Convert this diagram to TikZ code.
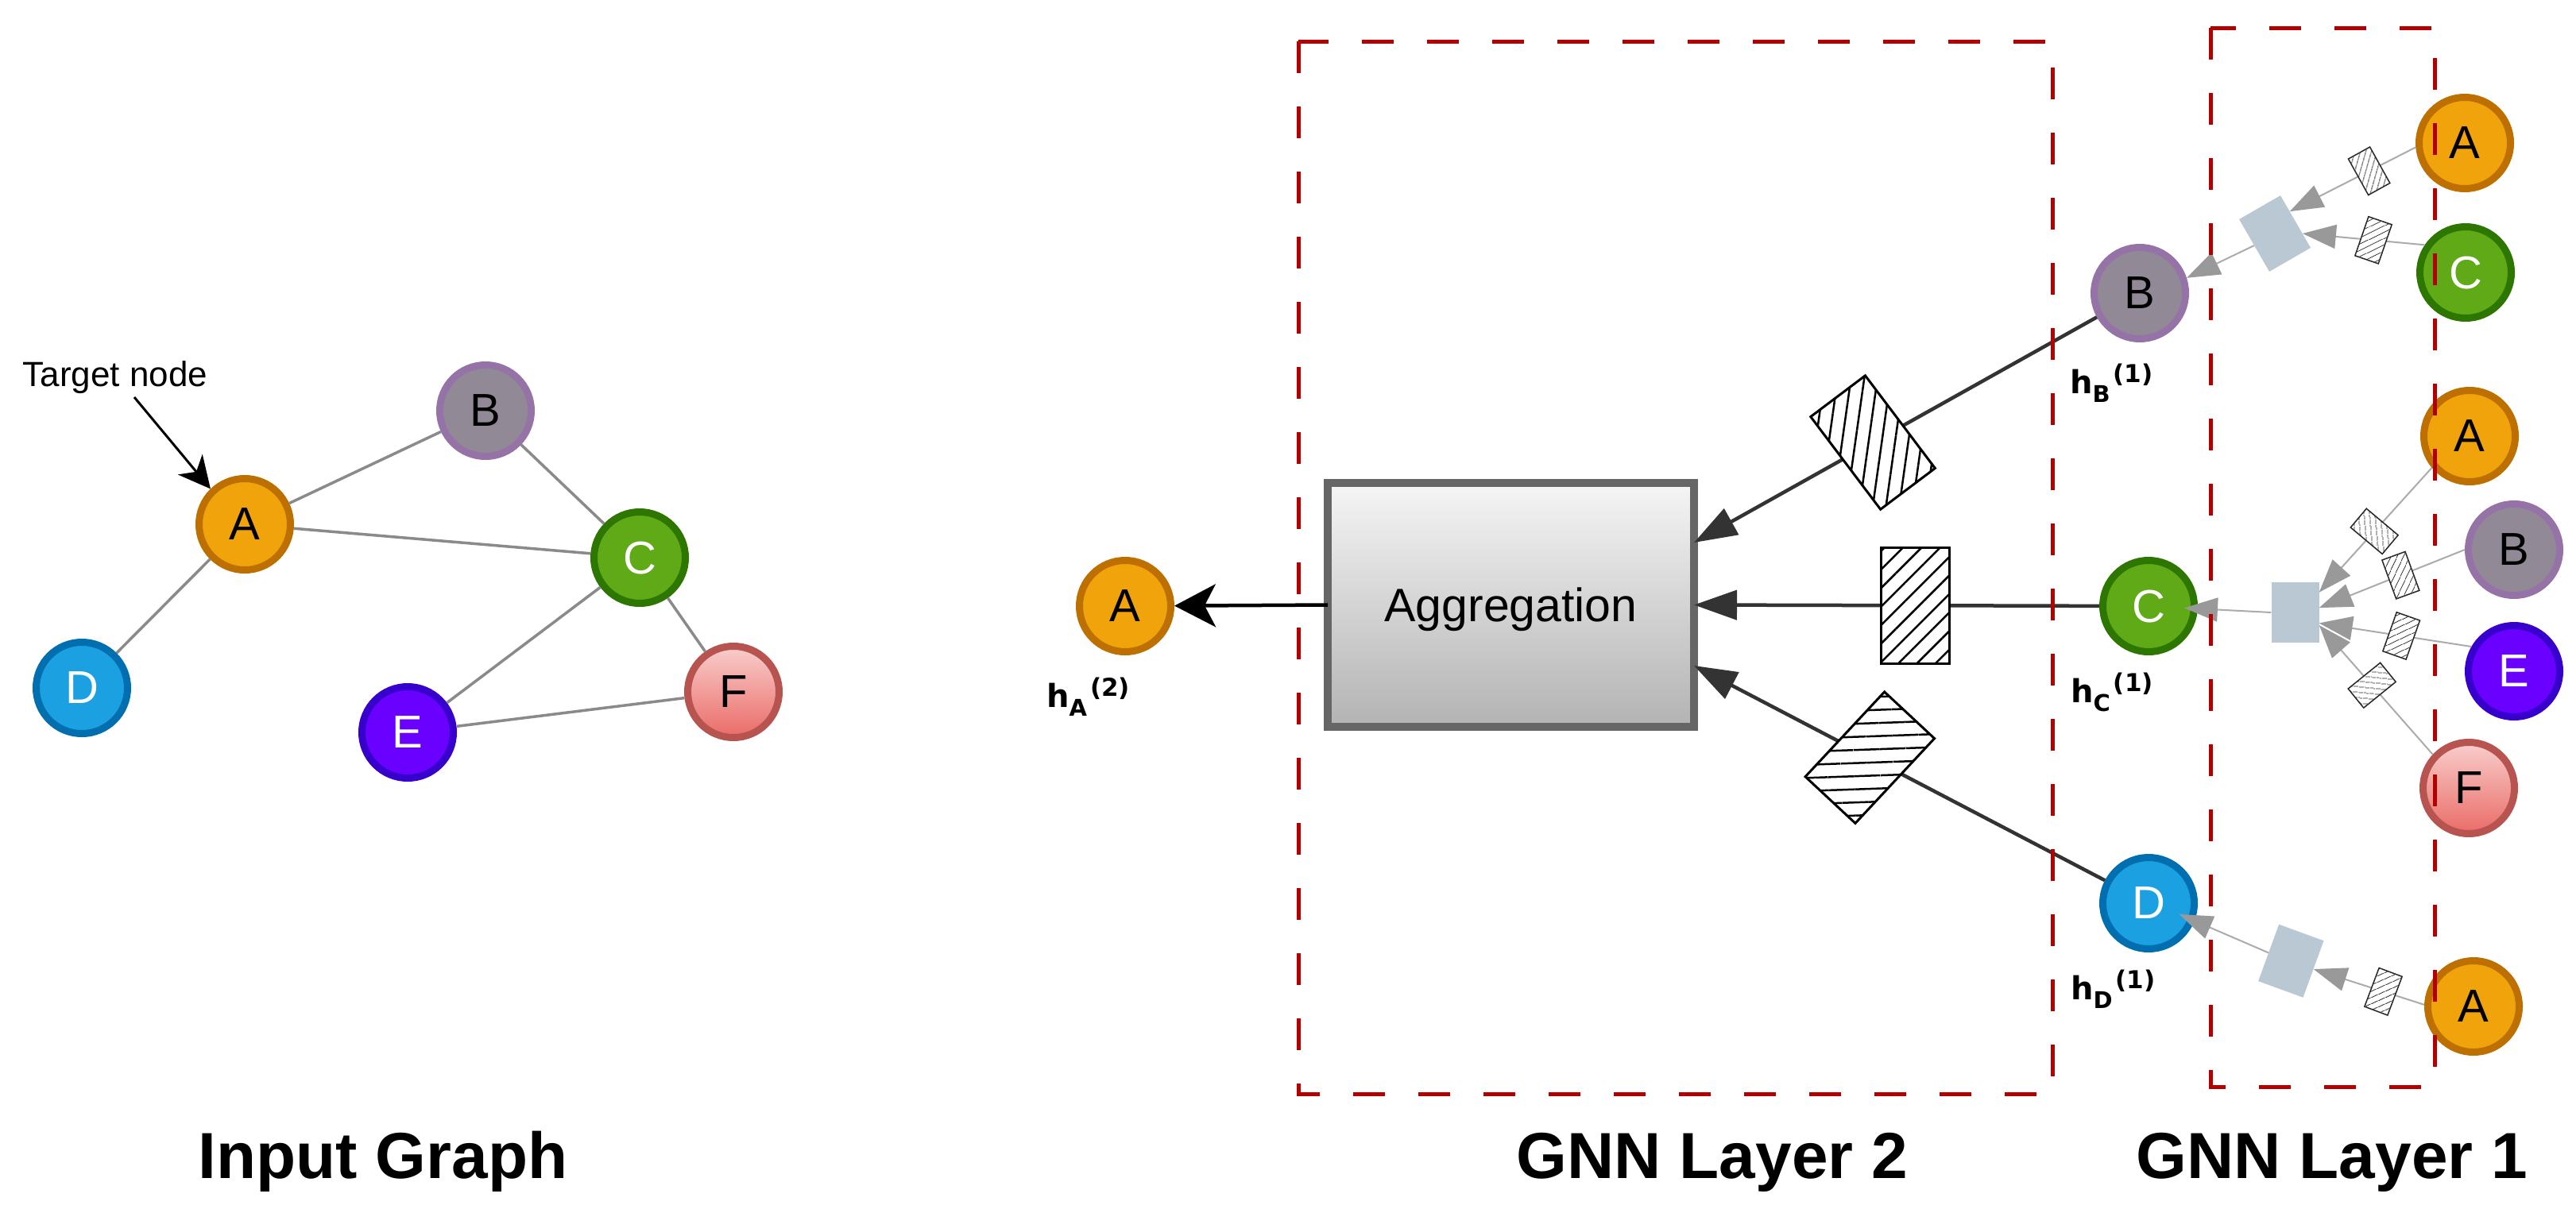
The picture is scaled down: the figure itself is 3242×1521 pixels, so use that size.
\documentclass[tikz,border=0pt]{standalone}
\usepackage{fontspec}
\setmainfont{Liberation Sans}
\newfontfamily\hfont{DejaVu Sans}
\usetikzlibrary{arrows.meta,patterns.meta,calc}

\definecolor{cAf}{HTML}{F0A30A}\definecolor{cAs}{HTML}{BD7000}
\definecolor{cBf}{HTML}{918A96}\definecolor{cBs}{HTML}{9673A6}
\definecolor{cCf}{HTML}{60A917}\definecolor{cCs}{HTML}{2D7600}
\definecolor{cDf}{HTML}{1BA1E2}\definecolor{cDs}{HTML}{006EAF}
\definecolor{cEf}{HTML}{6A00FF}\definecolor{cEs}{HTML}{3700CC}
\definecolor{cFt}{HTML}{F8CECC}\definecolor{cFb}{HTML}{EA6B66}\definecolor{cFs}{HTML}{B85450}
\definecolor{dashred}{HTML}{B20000}
\definecolor{aggline}{HTML}{666666}
\definecolor{aggtop}{HTML}{F5F5F5}
\definecolor{aggbot}{HTML}{B3B3B3}
\definecolor{darkline}{HTML}{333333}
\definecolor{wrect}{HTML}{BAC8D3}
\definecolor{gline}{HTML}{ABABAB}
\definecolor{ghead}{HTML}{999999}
\definecolor{edgegray}{HTML}{8A8A8A}

\newcommand\hlab[2]{{\hfont\bfseries\fontsize{40}{44}\selectfont h}\raisebox{-11pt}{\hfont\bfseries\fontsize{29}{32}\selectfont #1}\hspace{4pt}\raisebox{14pt}{\hfont\bfseries\fontsize{31}{34}\selectfont (#2)}}

\tikzset{
  gnode/.style={circle, minimum size=115pt, inner sep=0pt, line width=9pt,
    font=\fontsize{58}{60}\selectfont, text depth=0pt},
  nA/.style={gnode, draw=cAs, fill=cAf, text=black},
  nB/.style={gnode, draw=cBs, fill=cBf, text=black},
  nC/.style={gnode, draw=cCs, fill=cCf, text=white},
  nD/.style={gnode, draw=cDs, fill=cDf, text=white},
  nE/.style={gnode, draw=cEs, fill=cEf, text=white},
  nF/.style={gnode, draw=cFs, top color=cFt, bottom color=cFb, text=black},
  edgeline/.style={draw=edgegray, line width=3.5pt},
  aggst/.style={draw=aggline, line width=10pt, top color=aggtop, bottom color=aggbot,
    minimum width=461pt, minimum height=307pt, inner sep=0pt, outer sep=0pt,
    font=\fontsize{59}{64}\selectfont, text depth=0pt},
  blackarr/.style={draw=black, line width=4.5pt, -{Stealth[length=52pt,width=54pt,inset=14pt]}},
  darkarr/.style={draw=darkline, line width=4.5pt, -{Triangle[length=54pt,width=37pt,color=darkline]}},
  grayarr/.style={draw=gline, line width=2pt, -{Triangle[length=42pt,width=30pt,color=ghead]}},
  bighatch/.style={draw=black, line width=3pt, fill=white, minimum width=86pt,
    minimum height=146pt, inner sep=0pt,
    postaction={pattern={Lines[angle=#1,distance=16.5pt,line width=2.5pt]}, pattern color=black}},
  shatch/.style={draw=black!85, line width=1.5pt, fill=white, minimum width=31pt,
    minimum height=52pt, inner sep=0pt,
    postaction={pattern={Lines[angle=#1,distance=6.5pt,line width=1pt]}, pattern color=black!85}},
  wrectst/.style={fill=wrect, minimum width=60pt, minimum height=76pt, inner sep=0pt},
  layerbox/.style={draw=dashred, line width=5pt, dash pattern=on 40pt off 42pt},
  titlest/.style={font=\fontsize{82}{90}\selectfont\bfseries, anchor=base, inner sep=0pt},
  hst/.style={anchor=base west, inner sep=0pt}
}

\begin{document}
\begin{tikzpicture}[x=1pt,y=-1pt]
\useasboundingbox (0,0) rectangle (3242,1521);
\fill[white] (0,0) rectangle (3242,1521);

% ---------- Input graph ----------
\node[nA] (iA) at (308,660) {A};
\node[nB] (iB) at (611,517) {B};
\node[nC] (iC) at (805,702) {C};
\node[nD] (iD) at (103,866) {D};
\node[nE] (iE) at (513,922) {E};
\node[nF] (iF) at (923,871) {F};
\draw[edgeline] (iA) -- (iB);
\draw[edgeline] (iA) -- (iC);
\draw[edgeline] (iA) -- (iD);
\draw[edgeline] (iB) -- (iC);
\draw[edgeline] (iC) -- (iE);
\draw[edgeline] (iC) -- (iF);
\draw[edgeline] (iE) -- (iF);

\node[font=\fontsize{44}{50}\selectfont, anchor=base, inner sep=0pt] (tn) at (145,486) {Target node};
\coordinate (tns) at (169,500);
\draw[line width=3pt, -{Stealth[length=40pt,width=40pt,inset=12pt]}] (tns) -- (iA.134);

% ---------- GNN layer 2 ----------
\node[aggst] (agg) at (1901.5,761.5) {Aggregation};
\node[nA] (oA) at (1416,763) {A};
\node[nB] (l2B) at (2693,369) {B};
\node[nC] (l2C) at (2704,763) {C};
\node[nD] (l2D) at (2704,1137) {D};
\coordinate (aggB) at ($(agg.east)+(0,-78.5)$);
\coordinate (aggD) at ($(agg.east)+(0,76.5)$);

\draw[blackarr] (agg.west) -- (oA);
\draw[darkarr] (l2B) -- node[bighatch=82, rotate=37, pos=0.556] (hw1) {} (aggB);
\draw[darkarr] (l2C) -- node[bighatch=45, pos=0.453] (hw2) {} (agg.east);
\draw[darkarr] (l2D) -- node[bighatch=2, rotate=-43, pos=0.572] (hw3) {} (aggD);

\node[hst] (hA) at (1317,890) {\hlab{A}{2}};
\node[hst] (hB) at (2605,495) {\hlab{B}{1}};
\node[hst] (hC) at (2606,884) {\hlab{C}{1}};
\node[hst] (hD) at (2606,1258) {\hlab{D}{1}};

% ---------- GNN layer 1 ----------
\node[nA] (a1) at (3102,180) {A};
\node[nC] (c1) at (3103,343) {C};
\node[nA] (a2) at (3108,549) {A};
\node[nB] (b2) at (3164,692) {B};
\node[nE] (e2) at (3164,845) {E};
\node[nF] (f2) at (3107,992) {F};
\node[nA] (a3) at (3113,1267) {A};
\node[wrectst, rotate=30] (r1) at (2863,294) {};
\node[wrectst] (r2) at (2888.5,771) {};
\node[wrectst, rotate=-20] (r3) at (2883.3,1209.7) {};

\draw[grayarr] (a1.185) -- node[shatch=74, rotate=29, pos=0.37] (s1) {} (r1.26);
\draw[grayarr] (c1.146) -- node[shatch=26, rotate=-19, pos=0.42] (s2) {} (r1.-30);
\draw[grayarr] (r1.west) -- (l2B.18);

\draw[grayarr] (a2.220) -- node[shatch=95, rotate=50, pos=0.51] (s3) {} (r2.40);
\draw[grayarr] (b2.180) -- node[shatch=65, rotate=20, pos=0.44] (s4) {} (r2.11);
\draw[grayarr] (e2.150) -- node[shatch=25, rotate=-19.5, pos=0.46] (s5) {} (r2.-24);
\draw[grayarr] (f2.137) -- node[shatch=-6, rotate=-51, pos=0.535] (s6) {} (r2.-28);
\draw[grayarr, shorten >=-17pt] (r2.west) -- (l2C);

\draw[grayarr] (a3.178) -- node[shatch=24, rotate=-20.6, pos=0.37] (s7) {} (r3.east);
\draw[grayarr, shorten >=-21pt] (r3.west) -- (l2D.-21);

% ---------- layer frames ----------
\draw[layerbox] (1634,52) rectangle (2583,1377);
\draw[layerbox] (2782,35) rectangle (3064,1368);

% ---------- titles ----------
\node[titlest] (t1) at (482,1483) {Input Graph};
\node[titlest] (t2) at (2155,1483) {GNN Layer 2};
\node[titlest] (t3) at (2935,1483) {GNN Layer 1};
\end{tikzpicture}
\end{document}
